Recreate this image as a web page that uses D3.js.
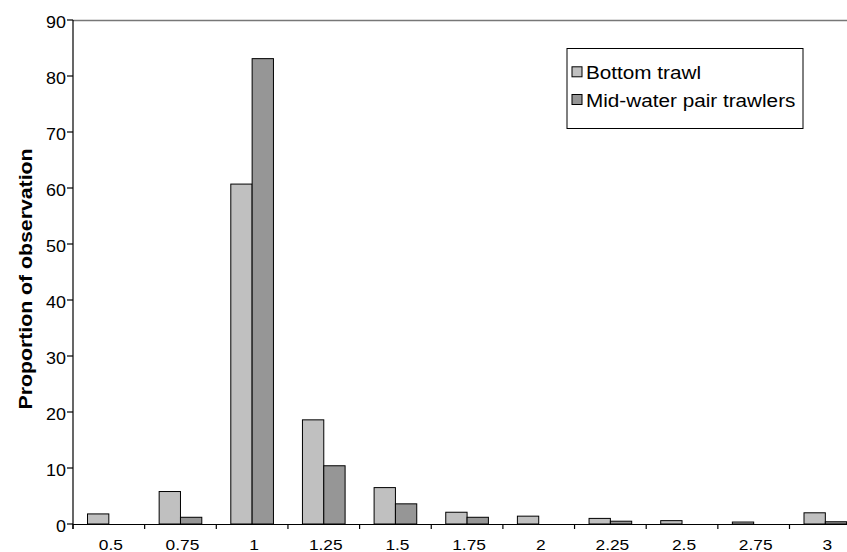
<!DOCTYPE html>
<html>
<head>
<meta charset="utf-8">
<script src="https://cdn.jsdelivr.net/npm/d3@7"></script>
<style>
  html, body { margin: 0; padding: 0; background: #fff; overflow: hidden; }
  svg { display: block; font-family: "Liberation Sans", Arial, sans-serif; }
</style>
</head>
<body>
<svg id="chart" width="847" height="552"></svg>
<script>
const categories = ["0.5", "0.75", "1", "1.25", "1.5", "1.75", "2", "2.25", "2.5", "2.75", "3"];
const seriesNames = ["Bottom trawl", "Mid-water pair trawlers"];
const bottomTrawl = [1.8, 5.8, 60.7, 18.6, 6.5, 2.1, 1.4, 1.0, 0.6, 0.35, 2.0];
const midWater = [0, 1.2, 83.1, 10.4, 3.6, 1.2, 0, 0.5, 0, 0, 0.4];
const yTicks = [0, 10, 20, 30, 40, 50, 60, 70, 80, 90];
const colors = ["#C0C0C0", "#969696"];

(function () {
const svg = d3.select("#chart");
const pLeft = 73, pTop = 20, pBottom = 524;
const step = 71.65;
const pRight = pLeft + step * categories.length;
const SX = 1.12; // horizontal text stretch

const x0 = d3.scaleBand().domain(categories).range([pLeft, pRight]).padding(0);
const x1 = d3.scaleBand().domain(seriesNames).range([0, x0.bandwidth()]).paddingInner(0).paddingOuter(0.68);
const y = d3.scaleLinear().domain([0, 90]).range([pBottom, pTop]);

// top frame line
svg.append("line").attr("x1", pLeft).attr("x2", 847).attr("y1", pTop + 0.5).attr("y2", pTop + 0.5)
  .attr("stroke", "#777").attr("stroke-width", 1.5);

// bars
const rows = categories.map((c, i) => ({ c, vals: [bottomTrawl[i], midWater[i]] }));
const g = svg.append("g");
rows.forEach(r => {
  r.vals.forEach((v, j) => {
    if (v <= 0) return;
    g.append("rect")
      .attr("x", x0(r.c) + x1(seriesNames[j]))
      .attr("y", y(v))
      .attr("width", x1.bandwidth())
      .attr("height", y(0) - y(v))
      .attr("fill", colors[j])
      .attr("stroke", "#000")
      .attr("stroke-width", 1);
  });
});

// x axis line & ticks at boundaries
svg.append("line").attr("x1", pLeft).attr("x2", 847).attr("y1", pBottom + 0.5).attr("y2", pBottom + 0.5)
  .attr("stroke", "#000").attr("stroke-width", 1.2);
for (let i = 0; i <= categories.length; i++) {
  const xb = pLeft + i * step;
  svg.append("line").attr("x1", xb).attr("x2", xb).attr("y1", pBottom).attr("y2", pBottom + 5)
    .attr("stroke", "#000").attr("stroke-width", 1.2);
}
categories.forEach(c => {
  const cx = x0(c) + x0.bandwidth() / 2 + 2;
  svg.append("text")
    .attr("transform", `translate(${cx},549.5) scale(${SX},1)`)
    .attr("text-anchor", "middle")
    .attr("font-size", 15.5)
    .attr("fill", "#000")
    .text(c);
});

// y axis
svg.append("line").attr("x1", pLeft).attr("x2", pLeft).attr("y1", pTop).attr("y2", pBottom + 5)
  .attr("stroke", "#000").attr("stroke-width", 1.2);
yTicks.forEach(t => {
  svg.append("line").attr("x1", pLeft - 6).attr("x2", pLeft).attr("y1", y(t)).attr("y2", y(t))
    .attr("stroke", "#000").attr("stroke-width", 1.2);
  svg.append("text")
    .attr("transform", `translate(${pLeft - 7},${y(t) + 8.3}) scale(${SX},1)`)
    .attr("text-anchor", "end")
    .attr("font-size", 16)
    .attr("fill", "#000")
    .text(t);
});

// y label
svg.append("text")
  .attr("transform", `translate(31.5,279) rotate(-90) scale(${SX},1)`)
  .attr("text-anchor", "middle")
  .attr("font-size", 19)
  .attr("font-weight", "bold")
  .attr("fill", "#000")
  .text("Proportion of observation");

// legend
const lg = svg.append("g");
lg.append("rect").attr("x", 567).attr("y", 48.5).attr("width", 236).attr("height", 80)
  .attr("fill", "#fff").attr("stroke", "#000").attr("stroke-width", 1);
const legY = [79.3, 107];
seriesNames.forEach((n, j) => {
  lg.append("rect").attr("x", 572).attr("y", legY[j] - 12.5).attr("width", 10).attr("height", 10)
    .attr("fill", colors[j]).attr("stroke", "#000").attr("stroke-width", 1);
  lg.append("text")
    .attr("transform", `translate(586,${legY[j]}) scale(${SX},1)`)
    .attr("font-size", 18.5)
    .attr("fill", "#000")
    .text(n);
});
})();
</script>
</body>
</html>
